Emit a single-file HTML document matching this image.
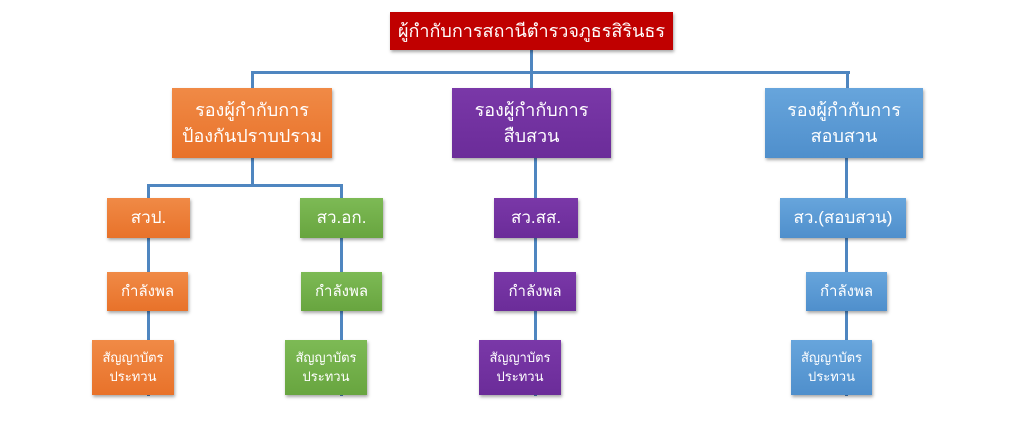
<!DOCTYPE html>
<html><head><meta charset="utf-8"><style>
body{margin:0;width:1024px;height:428px;background:#fff;position:relative;overflow:hidden;font-family:"Liberation Sans","Noto Sans CJK SC",sans-serif}
.b{position:absolute;display:flex;align-items:center;justify-content:center;text-align:center;color:#fff;box-shadow:1px 2px 3px rgba(0,0,0,.35);line-height:1.45}
.l{position:absolute;background:#4f86c0}
.o{background:linear-gradient(#f08a46,#e8722a)}
.g{background:linear-gradient(#7dba55,#68a53f)}
.p{background:linear-gradient(#7a38a8,#6b2c99)}
.u{background:linear-gradient(#67a5dc,#4f8fcc)}
</style></head><body>
<div class="l" style="left:530px;top:50px;width:3px;height:22px"></div>
<div class="l" style="left:251px;top:71px;width:599px;height:3px"></div>
<div class="l" style="left:251px;top:71px;width:3px;height:18px"></div>
<div class="l" style="left:530px;top:71px;width:3px;height:18px"></div>
<div class="l" style="left:846px;top:71px;width:3px;height:18px"></div>
<div class="l" style="left:251px;top:158px;width:3px;height:28px"></div>
<div class="l" style="left:147px;top:184px;width:196px;height:3px"></div>
<div class="l" style="left:147px;top:184px;width:3px;height:212px"></div>
<div class="l" style="left:340px;top:184px;width:3px;height:212px"></div>
<div class="l" style="left:534px;top:158px;width:3px;height:238px"></div>
<div class="l" style="left:845px;top:158px;width:3px;height:238px"></div>

<div class="b" style="left:390px;top:12px;width:283px;height:38px;background:#c00000;font-size:18px">ผู้กำกับการสถานีตำรวจภูธรสิรินธร</div>

<div class="b o" style="left:172px;top:88px;width:160px;height:70px;font-size:18px">รองผู้กำกับการ<br>ป้องกันปราบปราม</div>
<div class="b p" style="left:452px;top:88px;width:159px;height:70px;font-size:18px">รองผู้กำกับการ<br>สืบสวน</div>
<div class="b u" style="left:765px;top:88px;width:158px;height:70px;font-size:18px">รองผู้กำกับการ<br>สอบสวน</div>

<div class="b o" style="left:107px;top:198px;width:83px;height:40px;font-size:17px">สวป.</div>
<div class="b g" style="left:300px;top:198px;width:83px;height:40px;font-size:17px">สว.อก.</div>
<div class="b p" style="left:494px;top:198px;width:84px;height:40px;font-size:17px">สว.สส.</div>
<div class="b u" style="left:780px;top:198px;width:126px;height:40px;font-size:17px">สว.(สอบสวน)</div>

<div class="b o" style="left:107px;top:272px;width:81px;height:39px;font-size:15px">กำลังพล</div>
<div class="b g" style="left:301px;top:272px;width:81px;height:39px;font-size:15px">กำลังพล</div>
<div class="b p" style="left:494px;top:272px;width:82px;height:39px;font-size:15px">กำลังพล</div>
<div class="b u" style="left:806px;top:272px;width:81px;height:39px;font-size:15px">กำลังพล</div>

<div class="b o" style="left:92px;top:340px;width:82px;height:55px;font-size:13px">สัญญาบัตร<br>ประทวน</div>
<div class="b g" style="left:285px;top:340px;width:82px;height:55px;font-size:13px">สัญญาบัตร<br>ประทวน</div>
<div class="b p" style="left:479px;top:340px;width:82px;height:55px;font-size:13px">สัญญาบัตร<br>ประทวน</div>
<div class="b u" style="left:791px;top:340px;width:81px;height:55px;font-size:13px">สัญญาบัตร<br>ประทวน</div>
</body></html>
